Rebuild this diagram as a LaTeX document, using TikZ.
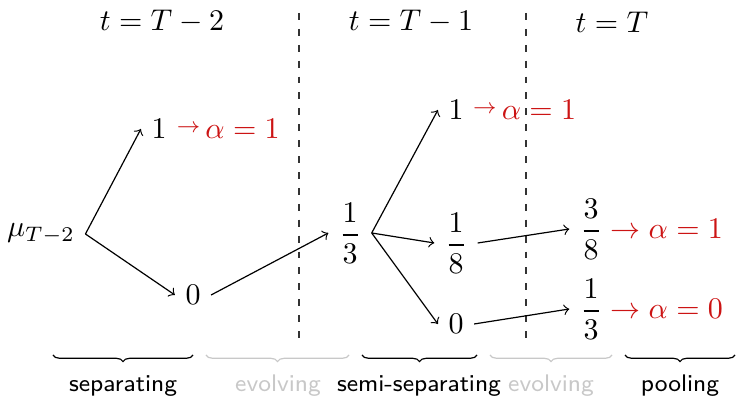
\documentclass[tikz,border=0pt]{standalone}
\usetikzlibrary{decorations.pathreplacing}
\definecolor{myred}{RGB}{204,20,20}
\definecolor{lightg}{RGB}{200,200,200}
\newcommand{\myfrac}[2]{\displaystyle\frac{#1}{#2}}
\begin{document}
\begin{tikzpicture}[x=0.3333pt,y=-0.3333pt,
  edge/.style={->,line width=0.4pt},
  redlab/.style={text=myred,inner sep=0pt,anchor=base west},
  bracedeco/.style={decorate,decoration={brace,mirror,amplitude=2.2pt}},
  phase/.style={font=\sffamily\footnotesize,anchor=base},
  divider/.style={dash pattern=on 2.3pt off 3pt,line width=0.4pt,black!80}]
\useasboundingbox (0,0) rectangle (736,397);
% titles
\node (h1) at (162,22) {$t=T-2$};
\node (h2) at (411,22) {$t=T-1$};
\node (h3) at (612,22) {$t=T$};
% dividers
\draw[divider] (299,13) -- (299,340);
\draw[divider] (526,13) -- (526,340);
% tree nodes
\node (mu) at (41,234) {$\mu_{T-2}$};
\node (a1) at (159,129) {$1$};
\node (a0) at (193,295) {$0$};
\node (m) at (350,233) {$\myfrac{1}{3}$};
\node (b1) at (456,110) {$1$};
\node (b8) at (456,243) {$\myfrac{1}{8}$};
\node (b0) at (456,324) {$0$};
\node (c38) at (591,229) {$\myfrac{3}{8}$};
\node (c13) at (591,309) {$\myfrac{1}{3}$};
% red labels
\node[redlab,xshift=-0.4pt] (ra1) at (a1.base east) {\raisebox{2pt}{$\scriptstyle\rightarrow$}$\,\alpha=1$};
\node[redlab,xshift=-0.6pt] (rb1) at (b1.base east) {\raisebox{2pt}{$\scriptstyle\rightarrow$}$\,\alpha=1$};
\node[redlab,xshift=-1pt] (rc38) at (c38.base east) {$\rightarrow\alpha=1$};
\node[redlab,xshift=-1pt] (rc13) at (c13.base east) {$\rightarrow\alpha=0$};
% connectors
\draw[edge] (mu.east) -- (a1.west);
\draw[edge] (mu.east) -- (a0.west);
\draw[edge] (a0.east) -- (m.west);
\draw[edge] (m.east) -- (b1.west);
\draw[edge] (m.east) -- (b8.west);
\draw[edge] (m.east) -- (b0.west);
\draw[edge] (b8.east) -- (c38.west);
\draw[edge] (b0.east) -- (c13.west);
% braces
\draw[bracedeco] (53,355) -- (193,355);
\draw[bracedeco,lightg] (206,355) -- (349,355);
\draw[bracedeco] (362,355) -- (477,355);
\draw[bracedeco,lightg] (490,355) -- (612,355);
\draw[bracedeco] (625,355) -- (735,355);
% phase labels
\node[phase] (p1) at (123,392) {separating};
\node[phase,text=lightg] (p2) at (278,392) {evolving};
\node[phase] (p3) at (419,392) {semi-separating};
\node[phase,text=lightg] (p4) at (551,392) {evolving};
\node[phase] (p5) at (680,392) {pooling};
\end{tikzpicture}
\end{document}
